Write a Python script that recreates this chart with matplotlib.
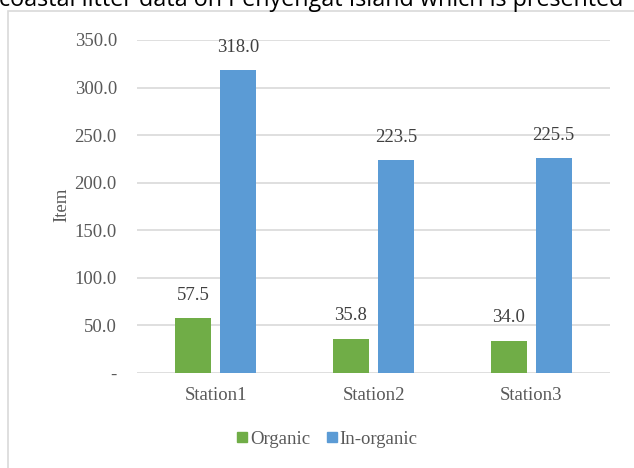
import matplotlib
matplotlib.use("Agg")
import matplotlib.pyplot as plt
import numpy as np
from matplotlib.patches import Rectangle
from matplotlib.lines import Line2D

stations = ["Station1", "Station2", "Station3"]
organic = [57.5, 35.8, 34.0]
inorganic = [318.0, 223.5, 225.5]
series_names = ["Organic", "In-organic"]
yticks = [0, 50, 100, 150, 200, 250, 300, 350]

GREEN = "#70AD47"
BLUE = "#5B9BD5"
GRID = "#D9D9D9"
TICK_TXT = "#595959"
LABEL_TXT = "#404040"
SERIF = "Liberation Serif"
FS = 13.5

fig = plt.figure(figsize=(6.34, 4.68), dpi=100)
W, H = 634, 468

# chart border (extends past the lower/right edge of the canvas)
fig.patches.append(Rectangle((8 / W, -0.05), 1.0, 1 - 11 / H + 0.05,
                             transform=fig.transFigure, fill=False,
                             edgecolor=GRID, linewidth=1.2, zorder=0))

# running text of the page above the chart
fig.text(-0.002, 1 - 6 / H, "coastal litter data on Penyengat Island which is presented",
         fontsize=16.8, family="Open Sans", color="black", va="baseline", ha="left")

ax = fig.add_axes([137 / W, 1 - 373 / H, (610 - 137) / W, (373 - 40) / H])
x = np.arange(len(stations))
bw = 0.228
off = 0.143
b1 = ax.bar(x - off, organic, bw, color=GREEN, label=series_names[0], zorder=3)
b2 = ax.bar(x + off, inorganic, bw, color=BLUE, label=series_names[1], zorder=3)

for bars, vals in ((b1, organic), (b2, inorganic)):
    for rect, v in zip(bars, vals):
        ax.annotate(f"{v:.1f}", (rect.get_x() + rect.get_width() / 2, v),
                    xytext=(0, 10.5), textcoords="offset points",
                    ha="center", va="bottom", family=SERIF, fontsize=FS,
                    color=LABEL_TXT)

ax.set_xlim(-0.5, 2.5)
ax.set_ylim(0, 350)
ax.set_yticks(yticks)
ax.set_yticklabels(["-" if t == 0 else f"{t:.1f}" for t in yticks])
ax.set_xticks(x)
ax.set_xticklabels(stations)
ax.grid(axis="y", color=GRID, linewidth=1.2, zorder=0)
ax.set_axisbelow(True)
for s in ax.spines.values():
    s.set_visible(False)
ax.tick_params(axis="both", length=0, labelsize=FS, labelcolor=TICK_TXT)
ax.tick_params(axis="y", pad=14.5)
ax.tick_params(axis="x", pad=10)
for lab in ax.get_xticklabels() + ax.get_yticklabels():
    lab.set_family(SERIF)

fig.text(62 / W, 1 - 205 / H, "Item", rotation=90, ha="center", va="center",
         family=SERIF, fontsize=FS, color=TICK_TXT)

handles = [Line2D([], [], marker="s", linestyle="none", markersize=7.5,
                  markerfacecolor=GREEN, markeredgecolor=GREEN),
           Line2D([], [], marker="s", linestyle="none", markersize=7.5,
                  markerfacecolor=BLUE, markeredgecolor=BLUE)]
leg = fig.legend(handles, series_names, loc="center", bbox_to_anchor=(325 / W, 1 - 439 / H),
                 ncol=2, frameon=False, handletextpad=-0.1, columnspacing=0.65,
                 handlelength=1.0, prop={"family": SERIF, "size": FS})
for t in leg.get_texts():
    t.set_color(TICK_TXT)

fig.savefig("out.png", dpi=100)
